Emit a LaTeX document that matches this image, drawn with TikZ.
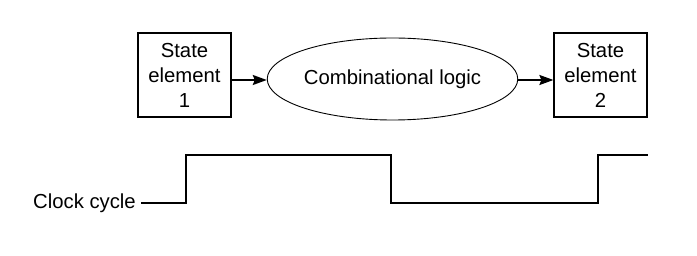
\documentclass[tikz,border=0pt]{standalone}
\usepackage{fontspec}
\setmainfont{Liberation Sans}
\usetikzlibrary{shapes.geometric,arrows.meta}
\begin{document}
\begin{tikzpicture}[x=1pt,y=-1pt,
  every node/.style={font=\fontsize{20.3}{25}\selectfont, inner sep=0pt},
  statebox/.style={draw, line width=1.2pt, minimum width=93pt, minimum height=84pt, align=center},
  logic/.style={draw, ellipse, line width=0.9pt, minimum width=219pt, minimum height=82pt},
  flow/.style={line width=1.8pt, -{Stealth[length=14pt,width=10pt,inset=2pt]}},
  clk/.style={line width=1.9pt}]
\useasboundingbox (0,0) rectangle (697,256);
\node[statebox] (s1) at (184.5,75) {State\\element\\1};
\node[statebox] (s2) at (600.5,75) {State\\element\\2};
\node[logic] (cl) at (392.5,79) {Combinational logic};
\draw[flow] (s1.east |- 0,80) -- (cl.west |- 0,80);
\draw[flow] (cl.east |- 0,80) -- (s2.west |- 0,80);
\node[anchor=east] (clab) at (136,203) {Clock cycle};
\coordinate (cend) at (648,155);
\draw[clk] (clab.east) ++(5,0) -- (186,203) -- (186,155) -- (391,155) -- (391,203) -- (598,203) -- (598,155) -- (cend);
\end{tikzpicture}
\end{document}
